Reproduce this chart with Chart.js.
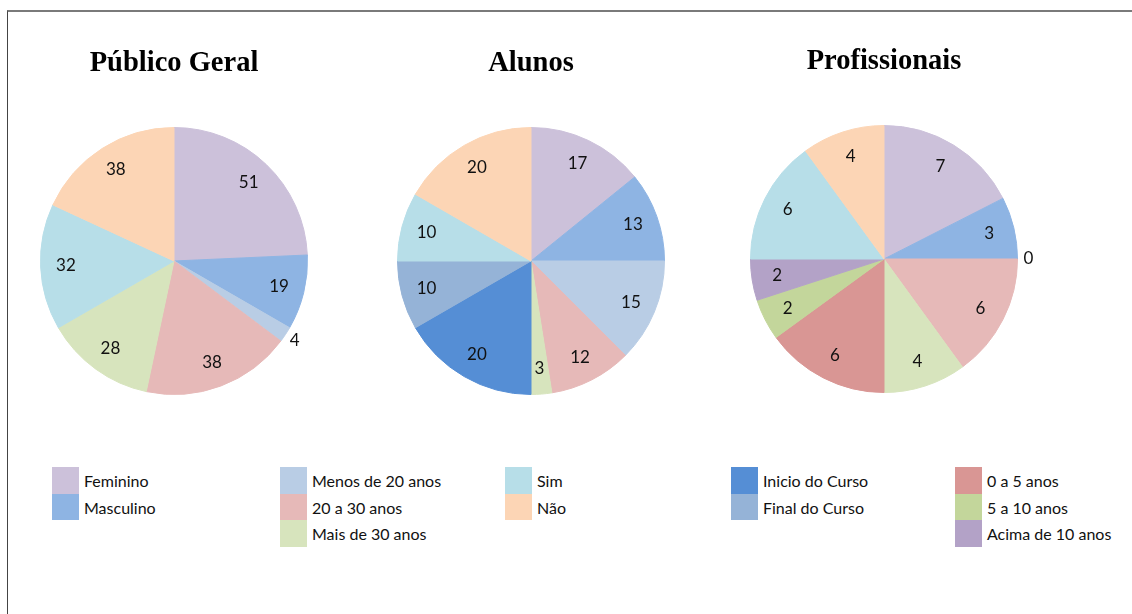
<!DOCTYPE html>
<html>
<head>
<meta charset="utf-8">
<script src="https://cdn.jsdelivr.net/npm/chart.js@4"></script>
<style>
  body { margin: 0; background: #fff; width: 1132px; height: 614px; overflow: hidden; position: relative; }
  #frame { position: absolute; left: 7px; top: 10px; right: 0; bottom: -10px; border-top: 2px solid #7a7a7a; border-left: 1px solid #444; }
  .pie { position: absolute; top: 0; }
  .leg-box { position: absolute; width: 27px; height: 26.5px; }
  .leg-txt { position: absolute; font: 16px Lato, sans-serif; color: #111; line-height: 26.5px; white-space: nowrap; }
</style>
</head>
<body>
<div id="frame"></div>
<div class="pie" style="left:14px"><canvas id="c1" width="320" height="400"></canvas></div>
<div class="pie" style="left:371px"><canvas id="c2" width="320" height="400"></canvas></div>
<div class="pie" style="left:724px;top:-2px"><canvas id="c3" width="320" height="400"></canvas></div>
<div id="legend"></div>
<script>
// categories shared by the three pies (null = not asked in that group)
const categories = ['Feminino', 'Masculino', 'Menos de 20 anos', '20 a 30 anos', 'Mais de 30 anos',
  'Inicio do Curso', 'Final do Curso', '0 a 5 anos', '5 a 10 anos', 'Acima de 10 anos', 'Sim', 'Não'];
const colors = ['#CCC1DA', '#8EB4E3', '#B9CDE5', '#E6B9B8', '#D7E4BD',
  '#558ED5', '#95B3D7', '#D99694', '#C3D69B', '#B3A2C7', '#B7DEE8', '#FCD5B5'];

const publicoGeral  = [51, 19, 4, 38, 28, null, null, null, null, null, 32, 38];
const alunos        = [17, 13, 15, 12, 3, 20, 10, null, null, null, 10, 20];
const profissionais = [7, 3, 0, 6, 4, null, null, 6, 2, 2, 6, 4];

const titles = ['Público Geral', 'Alunos', 'Profissionais'];

// legend columns, by category index
const legendGroups = [[0, 1], [2, 3, 4], [10, 11], [5, 6], [7, 8, 9]];

// value labels inside the slices (outside for very thin ones)
const sliceLabels = {
  id: 'sliceLabels',
  afterDatasetsDraw(chart) {
    const ctx = chart.ctx;
    const ds = chart.data.datasets[0];
    const meta = chart.getDatasetMeta(0);
    ctx.save();
    ctx.font = '17px Lato';
    ctx.fillStyle = '#111';
    ctx.textAlign = 'center';
    ctx.textBaseline = 'middle';
    meta.data.forEach((arc, i) => {
      const v = ds.data[i];
      if (v === null) return;
      const p = arc.getProps(['x', 'y', 'startAngle', 'endAngle', 'outerRadius'], true);
      const mid = (p.startAngle + p.endAngle) / 2;
      const span = p.endAngle - p.startAngle;
      const d = span < 0.14 ? p.outerRadius + 11 : p.outerRadius * 0.81;
      ctx.fillText(String(v), p.x + Math.cos(mid) * d, p.y + Math.sin(mid) * d);
    });
    ctx.restore();
  }
};

function makePie(id, title, values) {
  return new Chart(document.getElementById(id), {
    type: 'pie',
    data: {
      labels: categories,
      datasets: [{
        data: values,
        backgroundColor: colors,
        borderColor: colors,
        borderWidth: 1
      }]
    },
    options: {
      responsive: false,
      animation: false,
      layout: { padding: { bottom: 5 } },
      plugins: {
        legend: { display: false },
        tooltip: { enabled: false },
        title: {
          display: true,
          text: title,
          color: '#000',
          font: { family: 'Liberation Serif', size: 28.5, weight: 'bold', lineHeight: 1.2 },
          padding: { top: 47, bottom: 45.8 }
        }
      }
    },
    plugins: [sliceLabels]
  });
}

makePie('c1', titles[0], publicoGeral);
makePie('c2', titles[1], alunos);
makePie('c3', titles[2], profissionais);

// shared legend at the bottom
const legend = document.getElementById('legend');
const colX = [52, 280, 505, 731, 955];
legendGroups.forEach((group, c) => {
  group.forEach((idx, r) => {
    const top = 467 + r * 26.5;
    const box = document.createElement('div');
    box.className = 'leg-box';
    box.style.left = colX[c] + 'px';
    box.style.top = top + 'px';
    box.style.background = colors[idx];
    legend.appendChild(box);
    const txt = document.createElement('div');
    txt.className = 'leg-txt';
    txt.style.left = (colX[c] + 32) + 'px';
    txt.style.top = (top + 1) + 'px';
    txt.textContent = categories[idx];
    legend.appendChild(txt);
  });
});
</script>
</body>
</html>
